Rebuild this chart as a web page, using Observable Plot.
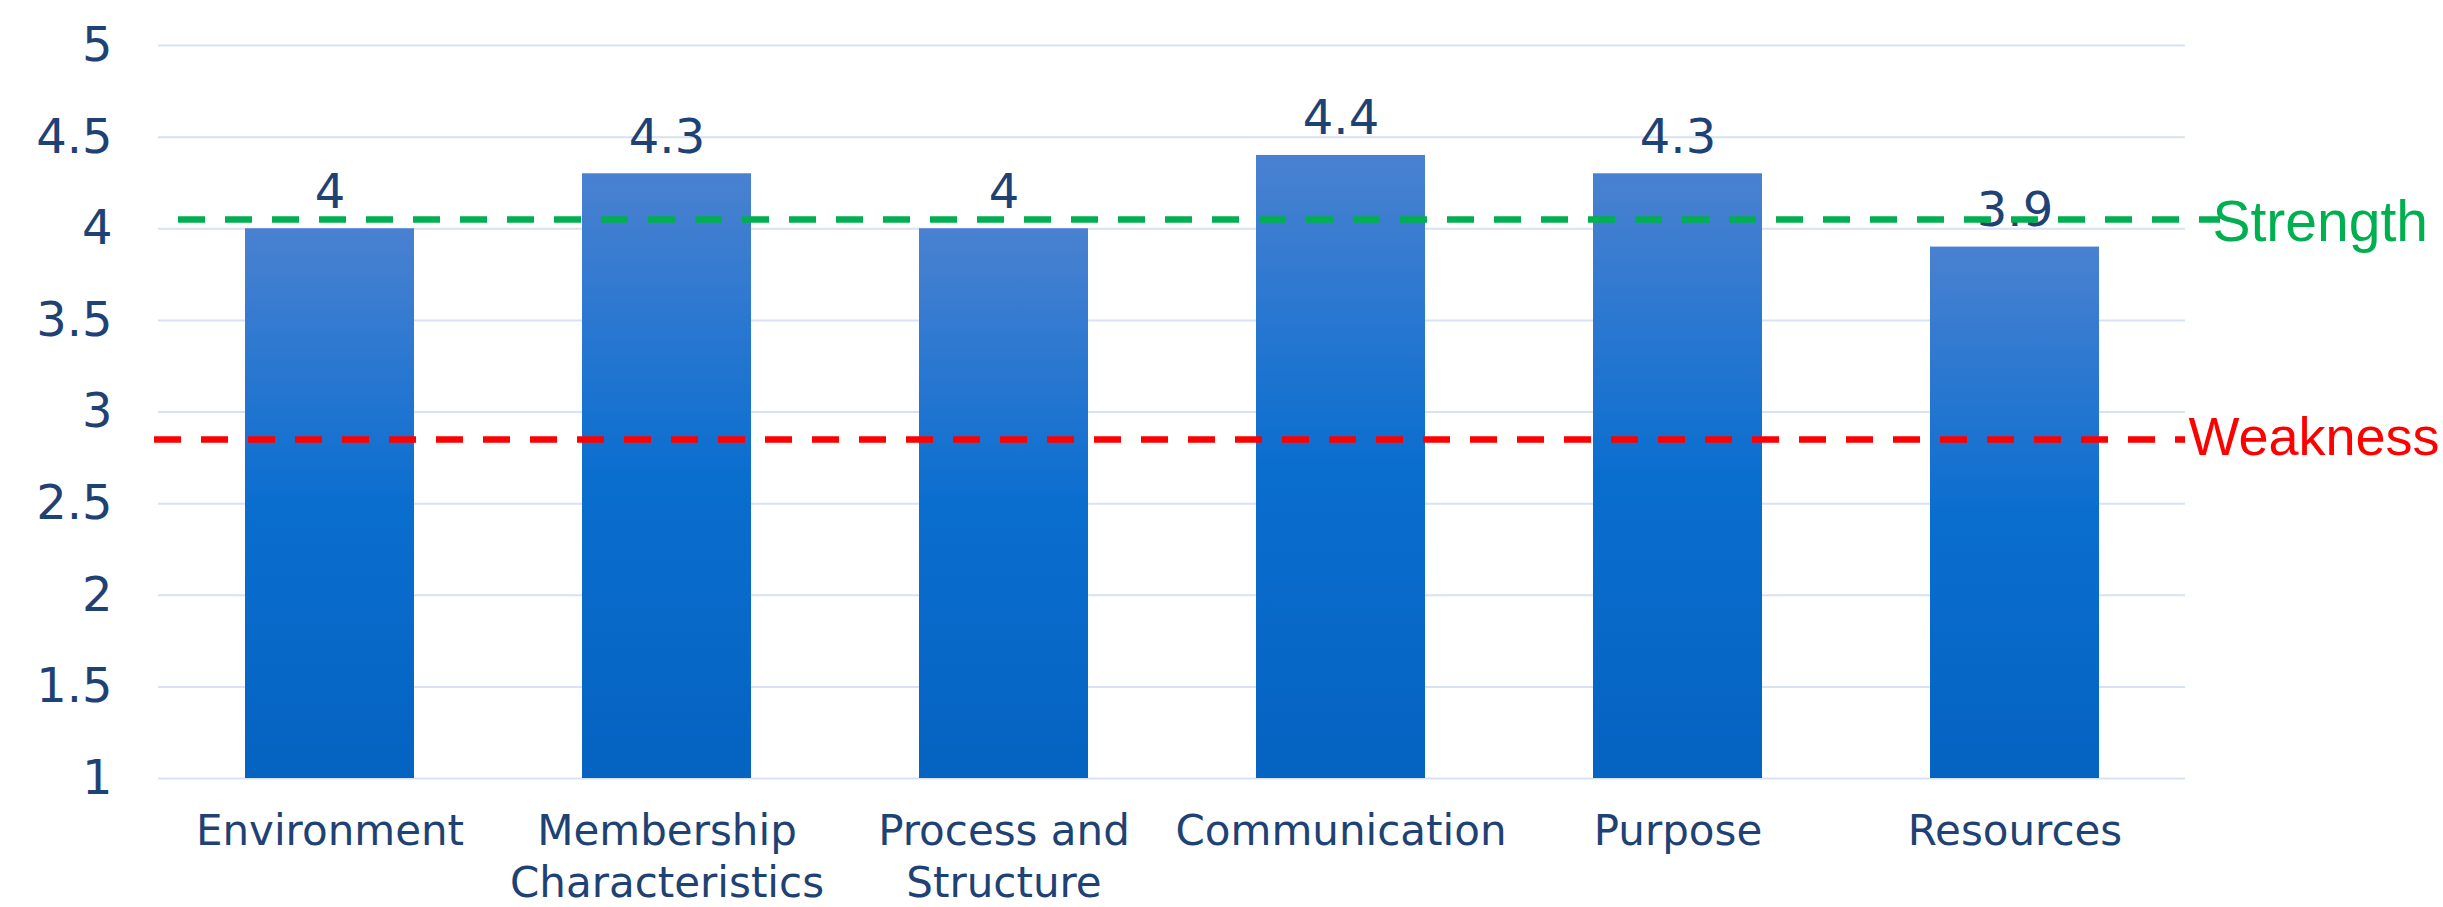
<!DOCTYPE html>
<html>
<head>
<meta charset="utf-8">
<script src="https://cdn.jsdelivr.net/npm/d3@7"></script>
<script src="https://cdn.jsdelivr.net/npm/@observablehq/plot@0.6"></script>
<style>
  html, body { margin: 0; padding: 0; background: #fff; }
  #chart svg { display: block; }
</style>
</head>
<body>
<div id="chart"></div>
<script>
// ---- data ----
const categories = ["Environment", "Membership Characteristics", "Process and Structure", "Communication", "Purpose", "Resources"];
const tickLabels = ["Environment", "Membership\nCharacteristics", "Process and\nStructure", "Communication", "Purpose", "Resources"];
const scores = [4.0, 4.3, 4.0, 4.4, 4.3, 3.9];
const yTicks = [1, 1.5, 2, 2.5, 3, 3.5, 4, 4.5, 5];
const strengthLevel = 4.05;
const weaknessLevel = 2.85;
const strengthLabel = "Strength";
const weaknessLabel = "Weakness";

const rows = categories.map((c, i) => ({category: c, value: scores[i]}));
const labelOf = new Map(categories.map((c, i) => [c, tickLabels[i]]));

const textColor = "#1F4274";

const gradientDefs = () => {
  const defs = d3.create("svg:defs");
  const g = defs.append("linearGradient")
    .attr("id", "barGrad").attr("x1", 0).attr("y1", 0).attr("x2", 0).attr("y2", 1);
  g.append("stop").attr("offset", "0%").attr("stop-color", "#4A81D1");
  g.append("stop").attr("offset", "50%").attr("stop-color", "#0A6ECF");
  g.append("stop").attr("offset", "100%").attr("stop-color", "#0563C1");
  return defs.node();
};

const chart = Plot.plot({
  width: 2443,
  height: 907,
  marginLeft: 158,
  marginRight: 258,
  marginTop: 45,
  marginBottom: 129,
  style: {fontFamily: "DejaVu Sans", background: "#fff", overflow: "visible"},
  x: {domain: categories, paddingInner: 0.5, paddingOuter: 0.25, label: null},
  y: {domain: [1, 5], label: null},
  marks: [
    gradientDefs,
    Plot.gridY(yTicks, {stroke: "#D9E2F3", strokeOpacity: 1, strokeWidth: 2}),
    Plot.axisY({ticks: yTicks, tickSize: 0, tickPadding: 46, fontSize: 48, fill: textColor, label: null,
      tickFormat: d => String(d)}),
    Plot.axisX({tickSize: 0, tickPadding: 29, fontSize: 42, fill: textColor, lineHeight: 1.25,
      tickFormat: d => labelOf.get(d), label: null}),
    Plot.barY(rows, {x: "category", y1: 1, y2: "value", fill: "url(#barGrad)"}),
    Plot.text(rows, {x: "category", y: "value", text: d => String(d.value), lineAnchor: "bottom",
      dy: -21, fontSize: 48, fill: textColor}),
    Plot.ruleY([weaknessLevel], {stroke: "#FF0000", strokeWidth: 6.5, strokeDasharray: "27,20",
      insetLeft: -4, insetRight: 0}),
    Plot.ruleY([strengthLevel], {stroke: "#00B050", strokeWidth: 6.5, strokeDasharray: "27,20",
      insetLeft: 20, insetRight: -35}),
    Plot.text([strengthLevel], {y: d => d, frameAnchor: "right", dx: 27, dy: 3, textAnchor: "start",
      text: () => strengthLabel, fill: "#00B050", fontSize: 57, fontFamily: "Liberation Sans"}),
    Plot.text([weaknessLevel], {y: d => d, frameAnchor: "right", dx: 3, dy: -2, textAnchor: "start",
      text: () => weaknessLabel, fill: "#FF0000", fontSize: 54, fontFamily: "Liberation Sans"})
  ]
});
document.getElementById("chart").appendChild(chart);
</script>
</body>
</html>
